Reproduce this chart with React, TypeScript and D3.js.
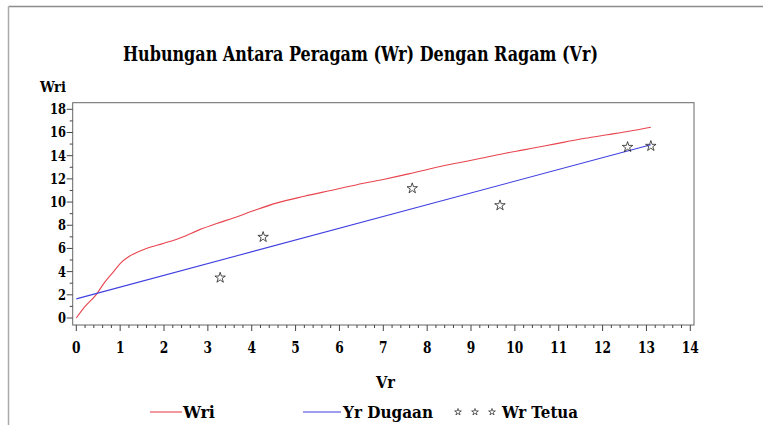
import React from "react";
import * as d3 from "d3";

// Wri curve (red)
const wriVr = [0, 0.2, 0.45, 0.65, 0.85, 1.0, 1.2, 1.4, 1.6, 2.0, 2.4, 2.8, 3.2, 3.6, 4.0, 4.6, 5.2, 5.8, 6.4, 7.0, 7.6, 8.1, 8.6, 9.2, 9.7, 10.2, 10.7, 11.1, 11.6, 12.1, 12.6, 13.1];
const wriVal = [0, 1.0, 2.0, 3.1, 4.0, 4.7, 5.3, 5.7, 6.0, 6.45, 6.95, 7.6, 8.15, 8.65, 9.2, 9.95, 10.5, 11.0, 11.5, 11.95, 12.45, 12.9, 13.3, 13.75, 14.15, 14.5, 14.85, 15.15, 15.5, 15.8, 16.1, 16.45];

// Yr Dugaan (blue regression line)
const dugaanVr = [0, 13.1];
const dugaanVal = [1.65, 14.95];

// Wr Tetua (parents)
const tetuaVr = [3.28, 4.26, 7.66, 9.66, 12.57, 13.1];
const tetuaWr = [3.47, 6.98, 11.18, 9.71, 14.74, 14.83];

const xTicks = d3.range(0, 15);
const yTicks = d3.range(0, 19, 2);

const W = 763;
const H = 425;
const font = "'DejaVu Serif', serif";

export default function App() {
  const x = d3.scaleLinear().domain([0, 14]).range([76.3, 690.3]);
  const y = d3.scaleLinear().domain([0, 18]).range([318, 109.3]);
  const frame = { x0: 72.7, x1: 694, y0: 102.7, y1: 325 };

  const line = d3
    .line<[number, number]>()
    .x((d) => x(d[0]))
    .y((d) => y(d[1]))
    .curve(d3.curveMonotoneX);

  const redPts = wriVr.map((v, i) => [v, wriVal[i]] as [number, number]);
  const bluePts = dugaanVr.map((v, i) => [v, dugaanVal[i]] as [number, number]);

  const star = d3.symbol().type(d3.symbolStar).size(34)();
  const smallStar = d3.symbol().type(d3.symbolStar).size(14)();

  const xMinor = d3.range(0, 14.01, 0.2).filter((v) => Math.abs(v - Math.round(v)) > 0.01);
  const yMinor = d3.range(1, 18, 2);

  return (
    <svg
      width={W}
      height={H}
      style={{ position: "absolute", left: 0, top: 0, background: "#fff" }}
      fontFamily={font}
      fontWeight="bold"
    >
      {/* outer border */}
      <line x1={8.5} y1={6.5} x2={W} y2={6.5} stroke="#8c8c8c" strokeWidth={1.5} />
      <line x1={8.5} y1={6.5} x2={8.5} y2={H} stroke="#aaa" strokeWidth={1.5} />

      <text x={123} y={61} fontSize={20} textLength={475} lengthAdjust="spacingAndGlyphs">
        Hubungan Antara Peragam (Wr) Dengan Ragam (Vr)
      </text>

      <text x={40} y={92} fontSize={15} textLength={26} lengthAdjust="spacingAndGlyphs">Wri</text>

      {/* frame */}
      <rect
        x={frame.x0}
        y={frame.y0}
        width={frame.x1 - frame.x0}
        height={frame.y1 - frame.y0}
        fill="none"
        stroke="#666"
        strokeWidth={1}
      />

      {/* y axis */}
      {yTicks.map((t) => {
        const s = String(t);
        return (
          <g key={"y" + t}>
            <line x1={frame.x0 - 6} x2={frame.x0} y1={y(t)} y2={y(t)} stroke="#444" />
            <text x={66 - 8 * s.length} y={y(t) + 5} fontSize={14} textLength={8 * s.length} lengthAdjust="spacingAndGlyphs">{s}</text>
          </g>
        );
      })}
      {yMinor.map((t) => (
        <line key={"ym" + t} x1={frame.x0 - 3} x2={frame.x0} y1={y(t)} y2={y(t)} stroke="#444" />
      ))}

      {/* x axis */}
      {xTicks.map((t) => {
        const s = String(t);
        const w = 8.5 * s.length;
        return (
          <g key={"x" + t}>
            <line x1={x(t)} x2={x(t)} y1={frame.y1} y2={frame.y1 + 6} stroke="#444" />
            <text x={x(t) - w / 2} y={353} fontSize={16} textLength={w} lengthAdjust="spacingAndGlyphs">{s}</text>
          </g>
        );
      })}
      {xMinor.map((t) => (
        <line key={"xm" + t} x1={x(t)} x2={x(t)} y1={frame.y1} y2={frame.y1 + 3} stroke="#444" />
      ))}

      <text x={376} y={388} fontSize={17} textLength={19} lengthAdjust="spacingAndGlyphs">Vr</text>

      {/* series */}
      <path d={line(redPts) || ""} fill="none" stroke="#e8454f" strokeWidth={1.1} />
      <path d={line(bluePts) || ""} fill="none" stroke="#3f3fe0" strokeWidth={1.1} />
      {tetuaVr.map((v, i) => (
        <path
          key={"s" + i}
          d={star || ""}
          transform={`translate(${x(v)},${y(tetuaWr[i])})`}
          fill="none"
          stroke="#222"
          strokeWidth={0.8}
        />
      ))}

      {/* legend */}
      <line x1={150} x2={182} y1={412} y2={412} stroke="#e8454f" strokeWidth={1.1} />
      <text x={183} y={418} fontSize={17} textLength={32} lengthAdjust="spacingAndGlyphs">Wri</text>
      <line x1={303} x2={341} y1={412} y2={412} stroke="#3f3fe0" strokeWidth={1.1} />
      <text x={343} y={418} fontSize={17} textLength={90} lengthAdjust="spacingAndGlyphs">Yr Dugaan</text>
      {[458, 475, 492].map((sx) => (
        <path key={"ls" + sx} d={smallStar || ""} transform={`translate(${sx},412)`} fill="none" stroke="#222" strokeWidth={0.7} />
      ))}
      <text x={502} y={418} fontSize={17} textLength={76} lengthAdjust="spacingAndGlyphs">Wr Tetua</text>
    </svg>
  );
}
